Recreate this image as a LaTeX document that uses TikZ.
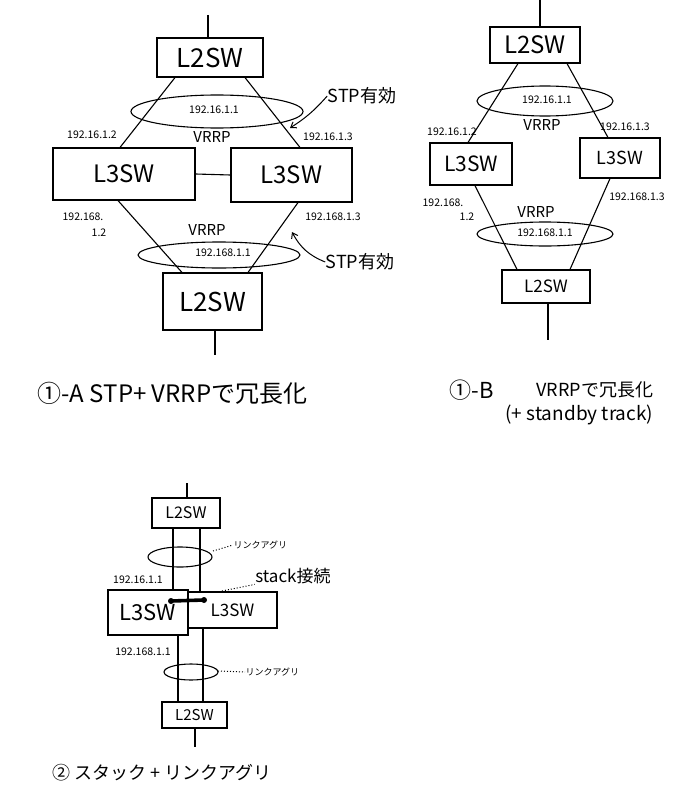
\documentclass[tikz,border=0pt]{standalone}
\usepackage{fontspec}
\setmainfont{Noto Sans CJK JP}
\usetikzlibrary{arrows.meta}

\newcommand{\fs}[1]{\fontsize{#1}{#1}\selectfont}

\begin{document}
\begin{tikzpicture}[x=1pt,y=-1pt,line width=1.1pt,
  sw/.style={draw,inner sep=0pt},
  ip/.style={inner sep=0pt,font=\fs{10.5}},
  vrrp/.style={inner sep=0pt,font=\fs{15}},
  note/.style={inner sep=0pt,font=\fs{18}},
  title/.style={inner sep=0pt,anchor=west,font=\fs{20}},
  pointer/.style={-{Straight Barb[length=5pt,width=7pt]},line width=1pt},
  leader/.style={dotted,line width=1pt}]
\useasboundingbox (0,0) rectangle (682,800);

% (1)-A STP + VRRP
\node[sw,minimum width=106,minimum height=39,font=\fs{26}] (l2aT) at (210,57.5) {L2SW};
\node[sw,minimum width=142,minimum height=52,font=\fs{24}] (l3aL) at (124,174) {L3SW};
\node[sw,minimum width=121,minimum height=54,font=\fs{24}] (l3aR) at (291.5,175) {L3SW};
\node[sw,minimum width=99,minimum height=57,font=\fs{26}] (l2aB) at (212.5,301.5) {L2SW};
\coordinate (upA) at (208,15);
\coordinate (dnA) at (215,355);
\draw (upA) -- (upA |- l2aT.north);
\draw ([xshift=-35]l2aT.south) -- ([xshift=-4]l3aL.north);
\draw ([xshift=35]l2aT.south) -- ([xshift=8.5]l3aR.north);
\draw (l3aL.east) -- (l3aR.west);
\draw ([xshift=-6]l3aL.south) -- ([xshift=-30.5]l2aB.north);
\draw ([xshift=6.5]l3aR.south) -- ([xshift=35.5]l2aB.north);
\draw (l2aB.south -| dnA) -- (dnA);
\draw (217,111.5) ellipse [x radius=86,y radius=16.5];
\draw (219,255) ellipse [x radius=81,y radius=13];
\node[ip] (ipA1) at (214,110) {192.16.1.1};
\node[ip] (ipA2) at (92,135) {192.16.1.2};
\node[ip] (ipA3) at (328,137) {192.16.1.3};
\node[vrrp] (vrA1) at (212,137) {VRRP};
\node[ip] (ipA4) at (83,217) {192.168.};
\node[ip] (ipA5) at (99,233) {1.2};
\node[ip] (ipA6) at (333,217) {192.168.1.3};
\node[vrrp] (vrA2) at (207,230) {VRRP};
\node[ip] (ipA7) at (223,253) {192.168.1.1};
\node[note] (stpA1) at (362,96) {STP有効};
\node[note] (stpA2) at (360,262) {STP有効};
\coordinate (tipA1) at (290,128);
\coordinate (tipA2) at (292,232);
\draw[pointer] (stpA1.west) to[bend left=8] (tipA1);
\draw[pointer] (stpA2.west) to[bend left=20] (tipA2);
\node[title,font=\fs{24}] (capA) at (37,393) {①-A STP+ VRRPで冗長化};

% (1)-B VRRP + standby track
\node[sw,minimum width=90,minimum height=36,font=\fs{24}] (l2bT) at (535,45) {L2SW};
\node[sw,minimum width=82,minimum height=42,font=\fs{21}] (l3bL) at (471,164) {L3SW};
\node[sw,minimum width=80,minimum height=40,font=\fs{18}] (l3bR) at (620,158) {L3SW};
\node[sw,minimum width=88,minimum height=33,font=\fs{17}] (l2bB) at (546,286.5) {L2SW};
\coordinate (upB) at (540,0);
\coordinate (dnB) at (548,340);
\draw (upB) -- (upB |- l2bT.north);
\draw ([xshift=-17]l2bT.south) -- ([xshift=-3]l3bL.north);
\draw ([xshift=32]l2bT.south) -- ([xshift=-12]l3bR.north);
\draw ([xshift=4]l3bL.south) -- ([xshift=-29]l2bB.north);
\draw ([xshift=-10]l3bR.south) -- ([xshift=24]l2bB.north);
\draw (l2bB.south -| dnB) -- (dnB);
\draw (545,101) ellipse [x radius=68,y radius=15];
\draw (545,234) ellipse [x radius=68,y radius=12];
\node[ip] (ipB1) at (547,100) {192.16.1.1};
\node[ip] (ipB2) at (452,132) {192.16.1.2};
\node[ip] (ipB3) at (625,127) {192.16.1.3};
\node[vrrp] (vrB1) at (542,125) {VRRP};
\node[ip] (ipB4) at (443,203) {192.168.};
\node[ip] (ipB5) at (467,217) {1.2};
\node[ip] (ipB6) at (637,197) {192.168.1.3};
\node[vrrp] (vrB2) at (536,212) {VRRP};
\node[ip] (ipB7) at (545,233) {192.168.1.1};
\node[title,font=\fs{22}] (capB1) at (449,390) {①-B};
\node[title,font=\fs{18}] (capB2) at (536,390) {VRRPで冗長化};
\node[title,font=\fs{19}] (capB3) at (505,415) {(+ standby track)};

% (2) stack + link aggregation
\node[sw,minimum width=68,minimum height=30,font=\fs{16}] (l2cT) at (186,513) {L2SW};
\node[sw,minimum width=80,minimum height=45,font=\fs{22}] (l3cL) at (148,612.5) {L3SW};
\node[sw,minimum width=89,minimum height=36,font=\fs{17}] (l3cR) at (232.5,610) {L3SW};
\node[sw,minimum width=65,minimum height=26,font=\fs{15}] (l2cB) at (194.5,715) {L2SW};
\coordinate (upC) at (187,483);
\coordinate (dnC) at (195,747);
\draw (upC) -- (upC |- l2cT.north);
\draw ([xshift=-13]l2cT.south) -- ([xshift=-13]l2cT.south |- l3cL.north);
\draw ([xshift=14]l2cT.south) -- ([xshift=14]l2cT.south |- l3cR.north);
\draw ([xshift=-16.5]l2cB.north) -- ([xshift=-16.5]l2cB.north |- l3cL.south);
\draw ([xshift=8.5]l2cB.north) -- ([xshift=8.5]l2cB.north |- l3cR.south);
\draw (l2cB.south -| dnC) -- (dnC);
\draw (180,557) ellipse [x radius=32,y radius=10];
\draw (191,672) ellipse [x radius=27,y radius=8];
\coordinate (stkL) at (171,601);
\coordinate (stkR) at (204,600);
\draw[line width=3.6pt] (stkL) -- (stkR);
\fill (stkL) circle [radius=3];
\fill (stkR) circle [radius=3];
\node[ip] (ipC1) at (138,580) {192.16.1.1};
\node[ip] (ipC2) at (143,652) {192.168.1.1};
\node[inner sep=0pt,anchor=west,font=\fs{9}] (lagC1) at (233,545) {リンクアグリ};
\node[inner sep=0pt,anchor=west,font=\fs{9}] (lagC2) at (245,672) {リンクアグリ};
\node[inner sep=0pt,font=\fs{17}] (stkC) at (293,576) {stack接続};
\coordinate (lagP1) at (213,551);
\coordinate (lagP2) at (218,671);
\coordinate (stkP) at (222,591);
\draw[leader] (lagP1) -- (lagC1.west);
\draw[leader] (lagP2) -- (lagC2.west);
\draw[leader] (stkP) -- (stkC.south west);
\node[title,font=\fs{18}] (capC) at (52,773) {② スタック + リンクアグリ};
\end{tikzpicture}
\end{document}
